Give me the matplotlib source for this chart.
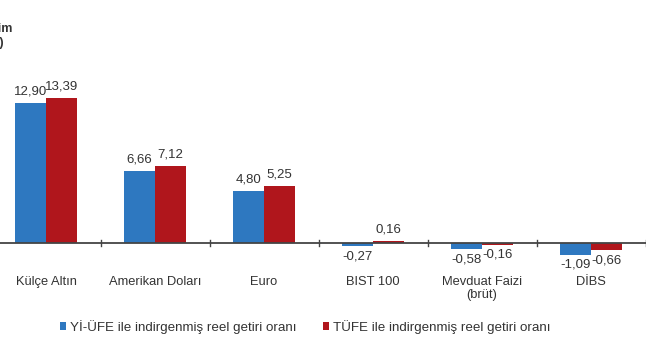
import matplotlib
matplotlib.use("Agg")
import matplotlib.pyplot as plt
import numpy as np

categories = ["Külçe Altın", "Amerikan Doları", "Euro", "BIST 100", "Mevduat Faizi\n(brüt)", "DİBS"]
yiufe = [12.90, 6.66, 4.80, -0.27, -0.58, -1.09]
tufe = [13.39, 7.12, 5.25, 0.16, -0.16, -0.66]
series_names = ["Yİ-ÜFE ile indirgenmiş reel getiri oranı", "TÜFE ile indirgenmiş reel getiri oranı"]

plt.rcParams['font.family'] = ['Liberation Sans', 'DejaVu Sans']
blue = "#2E78C0"
red = "#B0161C"
txt = "#333333"

fig = plt.figure(figsize=(6.5, 3.6), dpi=100)
ax = fig.add_axes([-8.5 / 650, 0.2647, 654 / 650, 228 / 360])
x = np.arange(len(categories))
w = 0.285
b1 = ax.bar(x - w / 2, yiufe, w, color=blue, label=series_names[0])
b2 = ax.bar(x + w / 2, tufe, w, color=red, label=series_names[1])
ax.set_xlim(-0.5, len(categories) - 0.5)
ax.set_ylim(-2, 19)
ax.axhline(0, color="#444444", lw=1.3, zorder=3)
for s in ax.spines.values():
    s.set_visible(False)
ax.set_yticks([])
ax.set_xticks([])
for b in np.arange(-0.5, len(categories), 1.0):
    ax.plot([b, b], [-0.25, 0.25], color="#444444", lw=1, zorder=3)

def fmt(v):
    return f"{v:.2f}".replace(".", ",")

for bars, vals in ((b1, yiufe), (b2, tufe)):
    for r, v in zip(bars, vals):
        cx = r.get_x() + r.get_width() / 2
        if v >= 0:
            ax.annotate(fmt(v), (cx, v), xytext=(0, 4), textcoords="offset points",
                        ha="center", va="bottom", fontsize=9.5, color=txt)
        else:
            ax.annotate(fmt(v), (cx, v), xytext=(0, -3), textcoords="offset points",
                        ha="center", va="top", fontsize=9.5, color=txt)

for xi, c in zip(x, categories):
    ax.annotate(c, (xi, 0), xytext=(0, -24), textcoords="offset points",
                ha="center", va="top", fontsize=9.3, color=txt, linespacing=1.1)

fig.text(12 / 650, 1 - 29 / 360, "Reel getirim", ha="right", va="center", fontsize=9,
         color=txt, fontweight="bold")
fig.text(4 / 650, 1 - 43 / 360, "(%)", ha="right", va="center", fontsize=9,
         color=txt, fontweight="bold")

leg = fig.legend(handles=[b1, b2], loc="center", bbox_to_anchor=(305 / 650, 1 - 327 / 360),
                 ncol=2, frameon=False, fontsize=9.6, handlelength=0.45, handleheight=0.6,
                 handletextpad=0.3, columnspacing=2.0)
for t in leg.get_texts():
    t.set_color(txt)

fig.savefig("out.png", dpi=100, facecolor="white")
